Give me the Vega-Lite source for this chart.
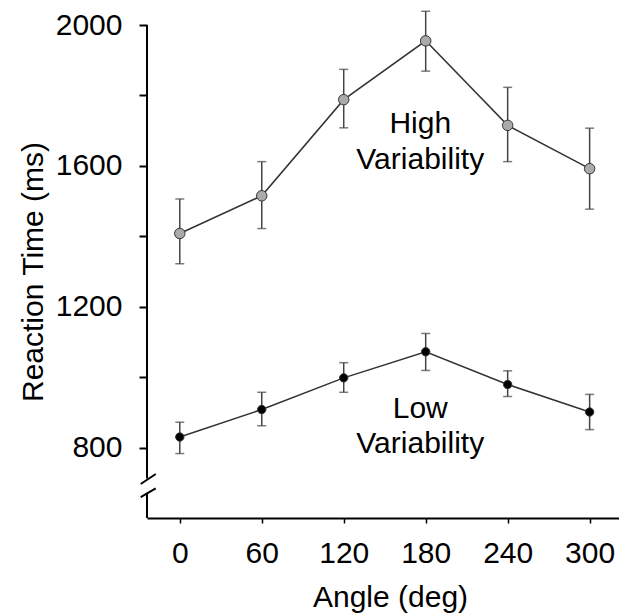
{
  "$schema": "https://vega.github.io/schema/vega-lite/v6.json",
  "width": 472,
  "height": 493,
  "autosize": "none",
  "padding": {"left": 147, "top": 25, "right": 0, "bottom": 98},
  "background": "white",
  "config": {"view": {"stroke": null}, "font": "Liberation Sans"},
  "datasets": {
    "rt": [
      {"angle": 0, "group": "High", "rt": 1408, "lo": 1322, "hi": 1506},
      {"angle": 60, "group": "High", "rt": 1515, "lo": 1422, "hi": 1612},
      {"angle": 120, "group": "High", "rt": 1788, "lo": 1708, "hi": 1874},
      {"angle": 180, "group": "High", "rt": 1955, "lo": 1869, "hi": 2039},
      {"angle": 240, "group": "High", "rt": 1715, "lo": 1612, "hi": 1823},
      {"angle": 300, "group": "High", "rt": 1592, "lo": 1477, "hi": 1707},
      {"angle": 0, "group": "Low", "rt": 830, "lo": 783, "hi": 872},
      {"angle": 60, "group": "Low", "rt": 908, "lo": 862, "hi": 957},
      {"angle": 120, "group": "Low", "rt": 998, "lo": 957, "hi": 1041},
      {"angle": 180, "group": "Low", "rt": 1072, "lo": 1019, "hi": 1124},
      {"angle": 240, "group": "Low", "rt": 979, "lo": 945, "hi": 1018},
      {"angle": 300, "group": "Low", "rt": 901, "lo": 851, "hi": 951}
    ],
    "labels": [
      {"label": "High\nVariability", "angle": 176, "rt": 1693},
      {"label": "Low\nVariability", "angle": 176, "rt": 884}
    ],
    "one": [{}]
  },
  "layer": [
    {
      "data": {"name": "rt"},
      "mark": {"type": "line", "color": "#333333", "strokeWidth": 1.5},
      "encoding": {
        "x": {
          "field": "angle", "type": "quantitative", "title": "Angle (deg)",
          "scale": {"domain": [-24, 321.5], "nice": false, "zero": false},
          "axis": {
            "values": [0, 60, 120, 180, 240, 300],
            "grid": false, "tickSize": 5, "tickWidth": 1.5, "tickColor": "#000000",
            "domainColor": "#000000", "domainWidth": 2,
            "labelFontSize": 30, "labelColor": "#000000", "labelPadding": 15, "labelFlush": false,
            "title": "Angle (deg)", "titleFontSize": 30, "titleFontWeight": "normal", "titleColor": "#000000",
            "titlePadding": 14, "titleX": 243
          }
        },
        "y": {
          "field": "rt", "type": "quantitative", "title": "Reaction Time (ms)",
          "scale": {"domain": [600, 2000], "nice": false, "zero": false},
          "axis": {
            "values": [800, 1000, 1200, 1400, 1600, 1800, 2000],
            "format": "d",
            "labelExpr": "datum.value % 400 == 0 ? datum.label : ''",
            "labelOverlap": false,
            "domain": false, "grid": false, "tickSize": 8, "tickWidth": 2, "tickColor": "#000000",
            "labelFontSize": 30, "labelColor": "#000000", "labelPadding": 17,
            "title": "Reaction Time (ms)", "titleFontSize": 30, "titleFontWeight": "normal", "titleColor": "#000000",
            "titlePadding": 7
          }
        },
        "detail": {"field": "group"}
      }
    },
    {
      "data": {"name": "rt"},
      "mark": {"type": "errorbar", "ticks": {"size": 9}, "thickness": 1.5, "color": "#444444"},
      "encoding": {
        "x": {"field": "angle", "type": "quantitative", "title": "Angle (deg)"},
        "y": {"field": "lo", "type": "quantitative", "title": "Reaction Time (ms)"},
        "y2": {"field": "hi"}
      }
    },
    {
      "data": {"name": "rt"},
      "mark": {"type": "point", "filled": true, "stroke": "#333333", "strokeWidth": 1, "opacity": 1},
      "encoding": {
        "x": {"field": "angle", "type": "quantitative", "title": "Angle (deg)"},
        "y": {"field": "rt", "type": "quantitative", "title": "Reaction Time (ms)"},
        "fill": {"field": "group", "type": "nominal", "scale": {"domain": ["High", "Low"], "range": ["#aaaaaa", "#000000"]}, "legend": null},
        "size": {"field": "group", "type": "nominal", "scale": {"domain": ["High", "Low"], "range": [110, 70]}, "legend": null}
      }
    },
    {
      "data": {"name": "labels"},
      "mark": {"type": "text", "fontSize": 30, "font": "Liberation Sans", "lineBreak": "\n", "align": "center", "baseline": "alphabetic", "lineHeight": 35.5, "color": "#000000"},
      "encoding": {
        "x": {"field": "angle", "type": "quantitative", "title": "Angle (deg)"},
        "y": {"field": "rt", "type": "quantitative", "title": "Reaction Time (ms)"},
        "text": {"field": "label"}
      }
    },
    {
      "data": {"name": "one"},
      "mark": {"type": "rule", "color": "#000000", "strokeWidth": 2},
      "encoding": {
        "x": {"datum": -24, "type": "quantitative", "title": "Angle (deg)"},
        "y": {"datum": 2000, "type": "quantitative", "title": "Reaction Time (ms)"},
        "y2": {"datum": 712}
      }
    },
    {
      "data": {"name": "one"},
      "mark": {"type": "rule", "color": "#000000", "strokeWidth": 2},
      "encoding": {
        "x": {"datum": -24, "type": "quantitative", "title": "Angle (deg)"},
        "y": {"datum": 672, "type": "quantitative", "title": "Reaction Time (ms)"},
        "y2": {"datum": 600}
      }
    },
    {
      "data": {"name": "one"},
      "mark": {"type": "rule", "color": "#000000", "strokeWidth": 2},
      "encoding": {
        "x": {"datum": -28.6, "type": "quantitative", "title": "Angle (deg)"},
        "x2": {"datum": -17.6},
        "y": {"datum": 696.5, "type": "quantitative", "title": "Reaction Time (ms)"},
        "y2": {"datum": 725}
      }
    },
    {
      "data": {"name": "one"},
      "mark": {"type": "rule", "color": "#000000", "strokeWidth": 2},
      "encoding": {
        "x": {"datum": -28.6, "type": "quantitative", "title": "Angle (deg)"},
        "x2": {"datum": -17.6},
        "y": {"datum": 659, "type": "quantitative", "title": "Reaction Time (ms)"},
        "y2": {"datum": 684.3}
      }
    }
  ]
}
